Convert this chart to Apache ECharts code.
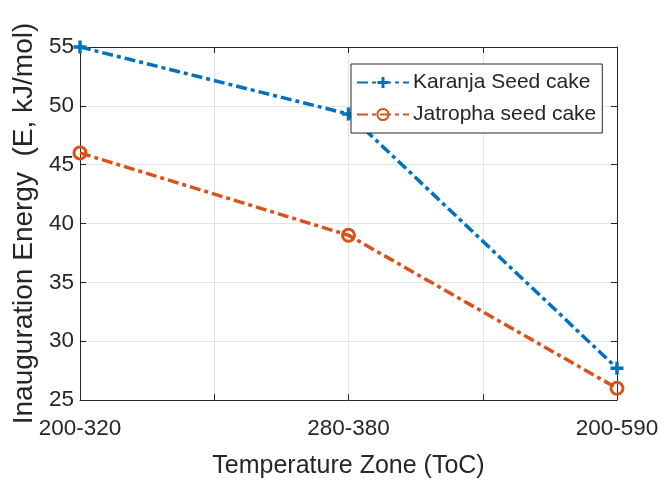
<!DOCTYPE html>
<html>
<head>
<meta charset="utf-8">
<script src="https://cdn.jsdelivr.net/npm/echarts@6/dist/echarts.min.js"></script>
<style>
  html, body { margin: 0; padding: 0; background: #fff; }
  #chart { width: 662px; height: 486px; }
</style>
</head>
<body>
<div id="chart"></div>
<script>
// Temperature zones (placed at x = 1, 2, 3)
const zones = ['200-320', '280-380', '200-590'];
const zonePos = [1, 2, 3];
// Activation energies, kJ/mol
const karanja = [55, 49.3, 27.7];
const jatropha = [46, 39.0, 26.0];
const yTicks = [25, 30, 35, 40, 45, 50, 55];

const FONT = 'Liberation Sans, Arial, Helvetica, sans-serif';
const TXT = '#262626';
const AX = '#262626';
const GRID = '#e3e3e3';
const BLUE = '#0072BD';
const ORANGE = '#D95319';
const DASHDOT = [11, 4, 4, 4];

const plus = 'path://M-1.6,-6 L1.6,-6 L1.6,-1.6 L6,-1.6 L6,1.6 L1.6,1.6 L1.6,6 L-1.6,6 L-1.6,1.6 L-6,1.6 L-6,-1.6 L-1.6,-1.6 Z';

function pairs(xs, ys) { return xs.map((x, i) => [x, ys[i]]); }

const chart = echarts.init(document.getElementById('chart'), null, { renderer: 'canvas' });

const xBase = {
  type: 'value', min: 1, max: 3, interval: 0.5,
  axisLine: { show: true, lineStyle: { color: AX, width: 1 } },
  axisTick: { show: true, inside: true, length: 6, lineStyle: { color: AX } },
  splitLine: { show: false }
};
const yBase = {
  type: 'value', min: yTicks[0], max: yTicks[yTicks.length - 1], interval: 5,
  axisLine: { show: true, lineStyle: { color: AX, width: 1 } },
  axisTick: { show: true, inside: true, length: 6, lineStyle: { color: AX } },
  splitLine: { show: false }
};

chart.setOption({
  animation: false,
  backgroundColor: '#fff',
  textStyle: { fontFamily: FONT },
  grid: { left: 80, right: 45, top: 47, bottom: 86, containLabel: false },
  xAxis: [
    Object.assign({}, xBase, {
      position: 'bottom',
      name: 'Temperature Zone (ToC)',
      nameLocation: 'middle',
      nameGap: 54,
      nameTextStyle: { fontSize: 25, color: TXT, fontFamily: FONT },
      splitLine: { show: true, lineStyle: { color: GRID, width: 1 } },
      axisLabel: {
        show: true, fontSize: 22.5, color: TXT, fontFamily: FONT, margin: 17,
        formatter: v => { const i = zonePos.indexOf(v); return i >= 0 ? zones[i] : ''; }
      }
    }),
    Object.assign({}, xBase, { position: 'top', axisLabel: { show: false } })
  ],
  yAxis: [
    Object.assign({}, yBase, {
      position: 'left',
      name: 'Inauguration Energy  (E, kJ/mol)',
      nameLocation: 'middle',
      nameGap: 41,
      nameTextStyle: { fontSize: 28, color: TXT, fontFamily: FONT },
      splitLine: { show: true, lineStyle: { color: GRID, width: 1 } },
      axisLabel: { show: true, fontSize: 22.5, color: TXT, fontFamily: FONT, margin: 6 }
    }),
    Object.assign({}, yBase, { position: 'right', axisLabel: { show: false } })
  ],
  legend: {
    orient: 'vertical',
    left: 351, top: 64,
    backgroundColor: '#fff',
    borderColor: '#262626', borderWidth: 1,
    padding: [8, 6, 8, 5],
    itemWidth: 52, itemHeight: 14, itemGap: 11,
    textStyle: { fontSize: 21, color: TXT, fontFamily: FONT, padding: [0, 0, 0, -1] },
    data: ['Karanja Seed cake', 'Jatropha seed cake']
  },
  series: [
    {
      name: 'Karanja Seed cake', type: 'line',
      data: pairs(zonePos, karanja),
      symbol: plus, symbolSize: 13, showAllSymbol: true,
      itemStyle: { color: BLUE, borderWidth: 0 },
      lineStyle: { color: BLUE, width: 3.5, type: DASHDOT },
      clip: false, z: 3
    },
    {
      name: 'Jatropha seed cake', type: 'line',
      data: pairs(zonePos, jatropha),
      symbol: 'circle', symbolSize: 12,
      itemStyle: { color: 'rgba(255,255,255,0)', borderColor: ORANGE, borderWidth: 3 },
      lineStyle: { color: ORANGE, width: 3.5, type: DASHDOT },
      clip: false, z: 3
    }
  ]
});
</script>
</body>
</html>
